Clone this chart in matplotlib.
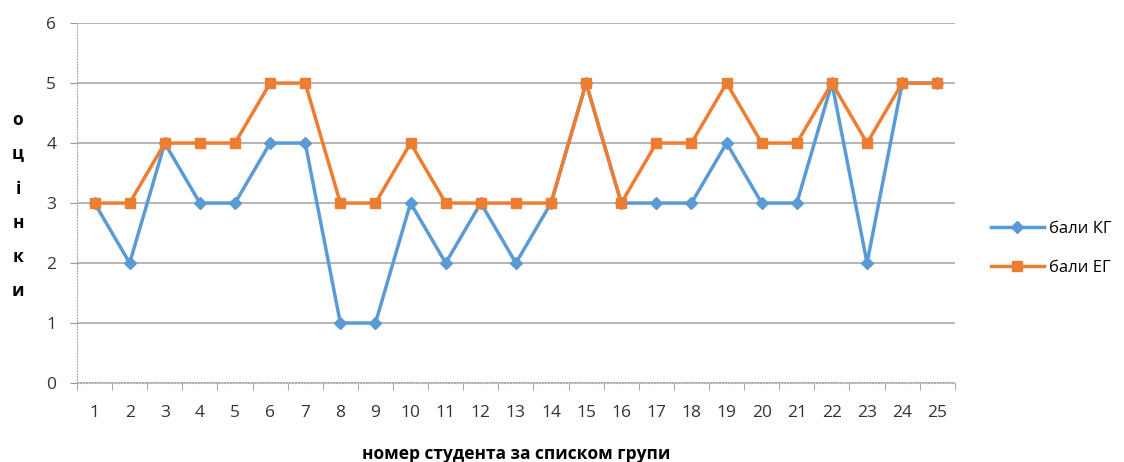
import matplotlib.pyplot as plt
import numpy as np

students = list(range(1, 26))
kg_scores = [3, 2, 4, 3, 3, 4, 4, 1, 1, 3, 2, 3, 2, 3, 5, 3, 3, 3, 4, 3, 3, 5, 2, 5, 5]
eg_scores = [3, 3, 4, 4, 4, 5, 5, 3, 3, 4, 3, 3, 3, 3, 5, 3, 4, 4, 5, 4, 4, 5, 4, 5, 5]
labels = ["бали КГ", "бали ЕГ"]

plt.rcParams['font.family'] = ['Open Sans', 'DejaVu Sans']

fig = plt.figure(figsize=(11.24, 4.62), dpi=100)
ax = fig.add_axes([0.0685, 0.171, 0.781, 0.779])

x = np.arange(len(students))
ax.plot(x, kg_scores, color="#5B9BD5", lw=2.5, marker="D", ms=6.5, label=labels[0])
ax.plot(x, eg_scores, color="#ED7D31", lw=2.5, marker="s", ms=7.5, label=labels[1])

ax.set_xlim(-0.5, len(students) - 0.5)
ax.set_ylim(0, 6)
ax.set_yticks(range(7))
ax.set_xticks(x)
ax.set_xticklabels([str(s) for s in students], fontsize=12.5, color="#333333")
ax.tick_params(axis="x", length=0, pad=16)
ax.set_xticks(np.arange(-0.5, len(students)), minor=True)
ax.tick_params(axis="x", which="minor", length=5, color="#999999")
ax.tick_params(axis="y", length=5, color="#999999", labelsize=12.5, labelcolor="#333333", pad=10)

ax.grid(axis="y", color="#B0B0B0", lw=1.3)
ax.set_axisbelow(True)
for s in ["top", "right"]:
    ax.spines[s].set_visible(False)
for s in ["left", "bottom"]:
    ax.spines[s].set_color("#AAAAAA")
    ax.spines[s].set_linestyle(":")

ax.set_xlabel("номер студента за списком групи", fontsize=12.5, fontweight="bold", labelpad=17)
fig.text(0.016, 0.555, "о\nц\nі\nн\nк\nи", fontsize=12.5, fontweight="bold",
         ha="center", va="center", linespacing=2.15)

fig.legend(loc="center left", bbox_to_anchor=(0.868, 0.462), frameon=False,
           fontsize=12, handlelength=3.2, labelspacing=1.4, handletextpad=0.3)

fig.savefig("out.png")
